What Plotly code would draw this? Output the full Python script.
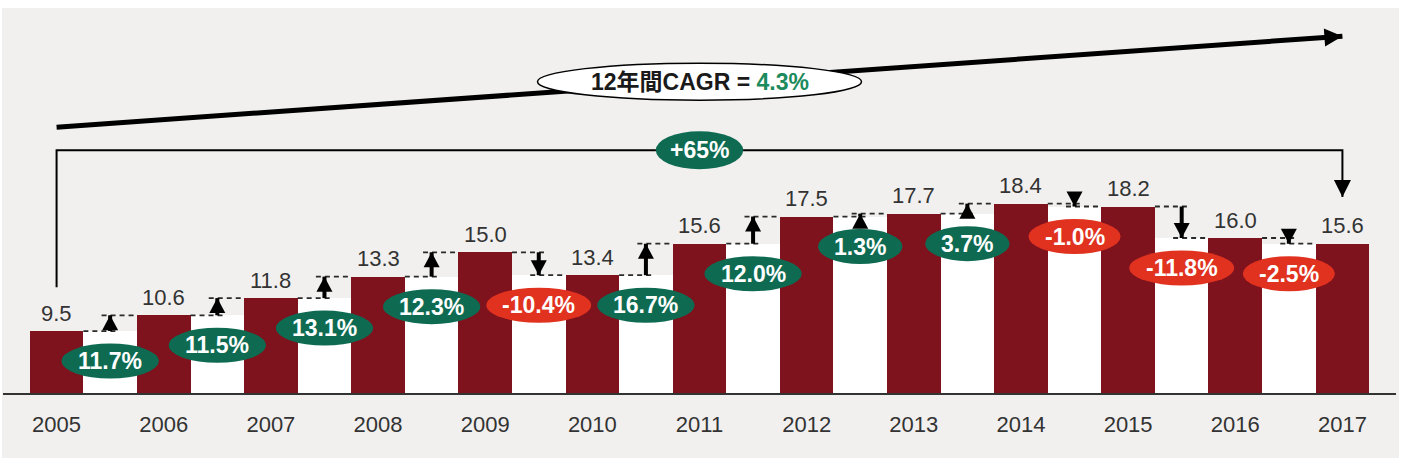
import math
import plotly.graph_objects as go

# ---------------- data ----------------
years = ["2005", "2006", "2007", "2008", "2009", "2010", "2011",
         "2012", "2013", "2014", "2015", "2016", "2017"]
values = [9.5, 10.6, 11.8, 13.3, 15.0, 13.4, 15.6, 17.5, 17.7, 18.4, 18.2, 16.0, 15.6]
change_labels = ["11.7%", "11.5%", "13.1%", "12.3%", "-10.4%", "16.7%",
                 "12.0%", "1.3%", "3.7%", "-1.0%", "-11.8%", "-2.5%"]
cagr_prefix = "12年間CAGR = "
cagr_value = "4.3%"
total_change = "+65%"

# ---------------- style ----------------
BAR = "#7e121d"
GREEN = "#0e6b52"
RED = "#e1311f"
LIGHT_GREEN = "#1b8a5c"
PANEL = "#f1f0ef"
TXT = "#333333"
FONT = "Liberation Sans, Arial, Noto Sans CJK JP, sans-serif"

Y_MIN, Y_MAX = 5.17, 32.07
CAGR_Y0, CAGR_Y1 = 23.74, 30.10
CAGR_ANGLE = 4.04          # screen angle of the CAGR arrow (deg)
BRACKET_Y = 22.13
BRACKET_START = values[0] + 3.06
BRACKET_TIP = values[-1] + 3.27

n = len(values)
xs = list(range(n))
gx = [i + 0.5 for i in range(n - 1)]
gap_min = [min(values[i], values[i + 1]) for i in range(n - 1)]

W_BOLD = {"0": .556, "1": .556, "2": .556, "3": .556, "4": .556, "5": .556, "6": .556,
          "7": .556, "8": .556, "9": .556, ".": .278, "%": .889, "-": .333, "+": .584}


def text_w(s, fs):
    return sum(W_BOLD.get(c, .6) for c in s) * fs


def head_path(length, width, angle_deg):
    """Triangle with tip at (0,0) pointing along angle (deg, 0 = right, 90 = up), pixel units."""
    a = math.radians(angle_deg)
    ux, uy = math.cos(a), math.sin(a)
    px, py = -uy, ux
    bx, by = -length * ux, -length * uy
    h = width / 2
    return (f"M0,0 L{bx + h * px:.2f},{by + h * py:.2f} "
            f"L{bx - h * px:.2f},{by - h * py:.2f} Z")


fig = go.Figure()

# white gaps between bars (up to the lower of neighbouring bars)
fig.add_bar(x=gx, y=gap_min, width=0.5, marker=dict(color="white", line=dict(width=0)),
            hoverinfo="skip")
# main bars
fig.add_bar(x=xs, y=values, width=0.5, marker=dict(color=BAR, line=dict(width=0)),
            hoverinfo="skip")

# dashed connectors
dx, dy = [], []
for i in range(n - 1):
    dx += [i + 0.25, i + 0.58, None, i + 0.42, i + 0.75, None]
    dy += [values[i], values[i], None, values[i + 1], values[i + 1], None]
fig.add_scatter(x=dx, y=dy, mode="lines", hoverinfo="skip",
                line=dict(color="#2a2a2a", width=1.8, dash="5px,4px"))

shapes = [dict(type="rect", xref="paper", yref="paper", x0=-1 / 1393, x1=1396 / 1393,
               y0=-65 / 385, y1=1.0, fillcolor=PANEL, line=dict(width=0), layer="below")]
annotations = []

# change arrows: shaft (trace) + head (pixel shape)
for i in range(n - 1):
    up = values[i + 1] > values[i]
    fig.add_scatter(x=[gx[i], gx[i]], y=[values[i], values[i + 1]], mode="lines",
                    hoverinfo="skip", line=dict(color="black", width=4, backoff=8))
    shapes.append(dict(type="path", xref="x", yref="y", xsizemode="pixel", ysizemode="pixel",
                       xanchor=gx[i], yanchor=values[i + 1],
                       path=head_path(15, 16, 90 if up else -90),
                       fillcolor="black", line=dict(width=0)))

# CAGR arrow
fig.add_scatter(x=[0, n - 1], y=[CAGR_Y0, CAGR_Y1], mode="lines", hoverinfo="skip",
                line=dict(color="black", width=5, backoff=10))
shapes.append(dict(type="path", xref="x", yref="y", xsizemode="pixel", ysizemode="pixel",
                   xanchor=n - 1, yanchor=CAGR_Y1, path=head_path(18, 18, CAGR_ANGLE),
                   fillcolor="black", line=dict(width=0)))

# bracket with arrow to the last bar
fig.add_scatter(x=[0, 0, n - 1, n - 1], y=[BRACKET_START, BRACKET_Y, BRACKET_Y, BRACKET_TIP],
                mode="lines", hoverinfo="skip",
                line=dict(color="black", width=2, backoff=8))
shapes.append(dict(type="path", xref="x", yref="y", xsizemode="pixel", ysizemode="pixel",
                   xanchor=n - 1, yanchor=BRACKET_TIP, path=head_path(17, 17, -90),
                   fillcolor="black", line=dict(width=0)))

# value labels
for i, v in enumerate(values):
    annotations.append(dict(x=i, y=v, xref="x", yref="y", text=f"{v:.1f}", showarrow=False,
                            yanchor="middle", yshift=18,
                            font=dict(family=FONT, size=22, color=TXT)))

# change ellipses
for i, lab in enumerate(change_labels):
    w = text_w(lab, 23) + 32
    col = GREEN if values[i + 1] > values[i] else RED
    shapes.append(dict(type="circle", xref="x", yref="y", xsizemode="pixel", ysizemode="pixel",
                       xanchor=gx[i], yanchor=gap_min[i], x0=-w / 2, x1=w / 2,
                       y0=-30 - 17.5, y1=-30 + 17.5, fillcolor=col, line=dict(width=0)))
    annotations.append(dict(x=gx[i], y=gap_min[i], xref="x", yref="y", yshift=-30,
                            text=f"<b>{lab}</b>", showarrow=False,
                            font=dict(family=FONT, size=23, color="white")))

# +65% ellipse on the bracket
mid_x = (n - 1) / 2
w65 = text_w(total_change, 23) + 28
shapes.append(dict(type="circle", xref="x", yref="y", xsizemode="pixel", ysizemode="pixel",
                   xanchor=mid_x, yanchor=BRACKET_Y, x0=-w65 / 2, x1=w65 / 2,
                   y0=-19, y1=19, fillcolor=GREEN, line=dict(width=0)))
annotations.append(dict(x=mid_x, y=BRACKET_Y, xref="x", yref="y", showarrow=False,
                        text=f"<b>{total_change}</b>",
                        font=dict(family=FONT, size=23, color="white")))

# CAGR ellipse on the arrow
cagr_mid_y = (CAGR_Y0 + CAGR_Y1) / 2
shapes.append(dict(type="circle", xref="x", yref="y", xsizemode="pixel", ysizemode="pixel",
                   xanchor=mid_x, yanchor=cagr_mid_y, x0=-162, x1=162,
                   y0=-18.5, y1=18.5, fillcolor="white", line=dict(color="black", width=1.5)))
annotations.append(dict(x=mid_x, y=cagr_mid_y, xref="x", yref="y", showarrow=False,
                        text=f"<b>{cagr_prefix}<span style='color:{LIGHT_GREEN}'>{cagr_value}</span></b>",
                        font=dict(family=FONT, size=23, color="#1a1a1a")))

fig.update_layout(
    width=1410, height=465, autosize=False,
    margin=dict(l=3, r=14, t=8, b=72, pad=0),
    paper_bgcolor="white", plot_bgcolor="rgba(0,0,0,0)",
    barmode="overlay", showlegend=False, bargap=0,
    shapes=shapes, annotations=annotations,
    xaxis=dict(range=[-0.5, n - 0.5], tickmode="array", tickvals=xs, ticktext=years,
               showgrid=False, zeroline=False, showline=True, linecolor=TXT, linewidth=2,
               ticks="outside", ticklen=11, tickcolor="rgba(0,0,0,0)",
               tickfont=dict(family=FONT, size=22, color=TXT), fixedrange=True),
    yaxis=dict(range=[Y_MIN, Y_MAX], visible=False, fixedrange=True),
)

fig.write_html("out.html")
